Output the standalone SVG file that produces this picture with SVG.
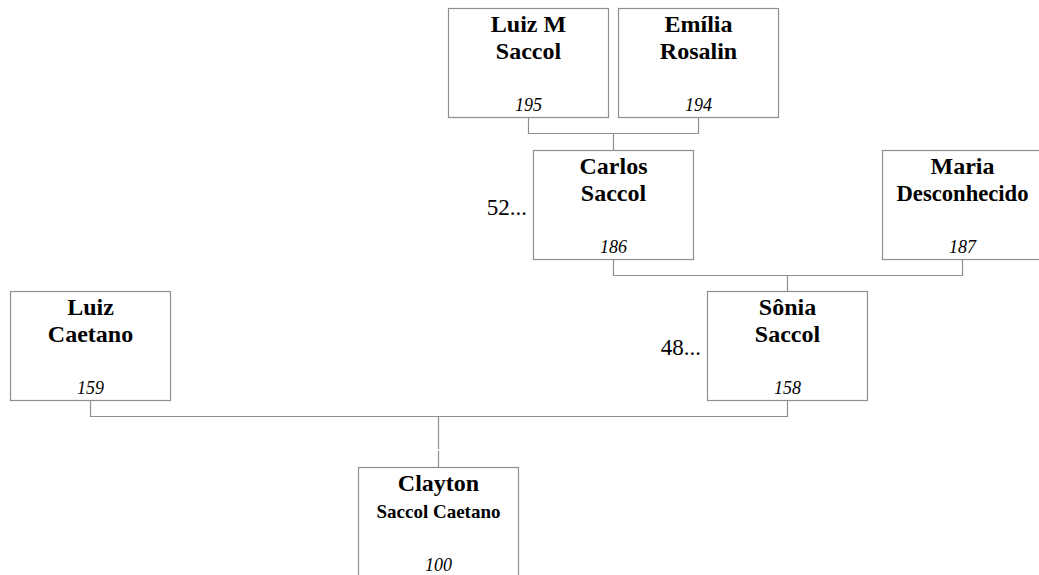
<svg xmlns="http://www.w3.org/2000/svg" width="1039" height="575" viewBox="0 0 1039 575">
<style>
.box{fill:#fff;stroke:#8f8f8f;stroke-width:1.2}
.nm{font-family:"Liberation Serif","Times New Roman",serif;font-weight:bold;font-size:24px;fill:#000;text-anchor:middle}
.sub{font-family:"Liberation Serif","Times New Roman",serif;font-weight:bold;font-size:19px;fill:#000;text-anchor:middle}
.id{font-family:"Liberation Serif","Times New Roman",serif;font-style:italic;font-size:18px;fill:#000;text-anchor:middle}
.more{font-family:"Liberation Serif","Times New Roman",serif;font-size:23px;fill:#000;text-anchor:end}
.con{fill:none;stroke:#8f8f8f;stroke-width:1.2}
</style>
<g id="connectors">
<path class="con" d="M528.5 117V133.5H698.5V117M613.5 133.5V150"/>
<path class="con" d="M613.5 259V275.5H962.5V259M787.5 275.5V291"/>
<path class="con" d="M90.5 400V416.5H787.5V400M438.5 416.5V449M438.5 451V467"/>
</g>
<g id="n195">
<rect class="box" x="448.5" y="8.5" width="160" height="109"/>
<text class="nm" x="528.5" y="32">Luiz M</text>
<text class="nm" x="528.5" y="59">Saccol</text>
<text class="id" x="528.5" y="111">195</text>
</g>
<g id="n194">
<rect class="box" x="618.5" y="8.5" width="160" height="109"/>
<text class="nm" x="698.5" y="32">Emília</text>
<text class="nm" x="698.5" y="59">Rosalin</text>
<text class="id" x="698.5" y="111">194</text>
</g>
<g id="n186">
<rect class="box" x="533.5" y="150.5" width="160" height="109"/>
<text class="nm" x="613.5" y="174">Carlos</text>
<text class="nm" x="613.5" y="201">Saccol</text>
<text class="id" x="613.5" y="253">186</text>
<text class="more" x="527" y="215">52...</text>
</g>
<g id="n187">
<rect class="box" x="882.5" y="150.5" width="160" height="109"/>
<text class="nm" x="962.5" y="174">Maria</text>
<text class="nm" x="962.5" y="201" textLength="132" lengthAdjust="spacingAndGlyphs">Desconhecido</text>
<text class="id" x="962.5" y="253">187</text>
</g>
<g id="n159">
<rect class="box" x="10.5" y="291.5" width="160" height="109"/>
<text class="nm" x="90.5" y="315">Luiz</text>
<text class="nm" x="90.5" y="342">Caetano</text>
<text class="id" x="90.5" y="394">159</text>
</g>
<g id="n158">
<rect class="box" x="707.5" y="291.5" width="160" height="109"/>
<text class="nm" x="787.5" y="315">Sônia</text>
<text class="nm" x="787.5" y="342">Saccol</text>
<text class="id" x="787.5" y="394">158</text>
<text class="more" x="701" y="355">48...</text>
</g>
<g id="n100">
<rect class="box" x="358.5" y="467.5" width="160" height="109"/>
<text class="nm" x="438.5" y="491">Clayton</text>
<text class="sub" x="438.5" y="518">Saccol Caetano</text>
<text class="id" x="438.5" y="571">100</text>
</g>
</svg>
